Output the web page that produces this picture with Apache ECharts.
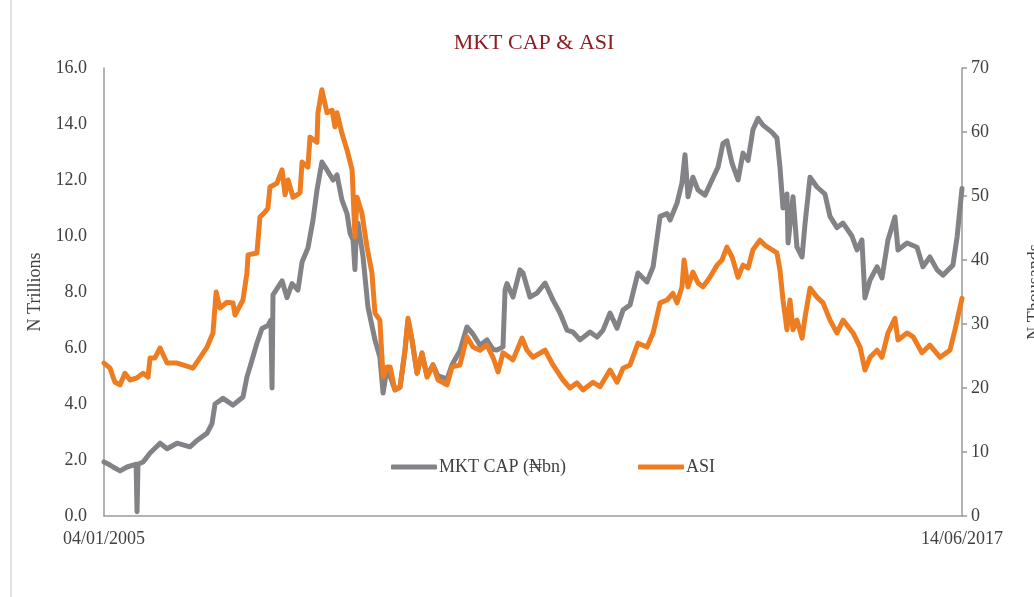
<!DOCTYPE html>
<html>
<head>
<meta charset="utf-8">
<title>MKT CAP &amp; ASI</title>
<script src="https://cdn.jsdelivr.net/npm/echarts@6/dist/echarts.min.js"></script>
<style>
  html, body { margin: 0; padding: 0; background: #ffffff; }
  #chart { width: 1034px; height: 597px; }
</style>
</head>
<body>
<div id="chart"></div>
<script>
// Axis end labels and the date range they span
const xTickLabels = ['04/01/2005', '14/06/2017'];
const startDate = '2005-01-04';
const endDate = '2017-06-14';

// Market capitalisation (N trillions, left axis)
const mktDates = [
  '2005-01-04','2005-02-05','2005-02-21','2005-03-30','2005-05-06','2005-06-07','2005-06-23','2005-06-28','2005-07-03','2005-07-30',
  '2005-09-05','2005-10-28','2005-12-04','2006-01-26','2006-04-04','2006-05-12','2006-07-04','2006-07-30','2006-08-15','2006-09-26',
  '2006-11-18','2007-01-10','2007-01-31','2007-02-27','2007-03-25','2007-04-21','2007-05-22','2007-06-07','2007-06-13','2007-06-18',
  '2007-08-05','2007-08-31','2007-09-27','2007-10-28','2007-11-19','2007-12-20','2008-01-16','2008-02-06','2008-03-03','2008-03-30',
  '2008-05-01','2008-05-22','2008-06-17','2008-07-14','2008-07-30','2008-08-15','2008-08-25','2008-08-31','2008-09-10','2008-10-07',
  '2008-11-02','2008-12-09','2009-01-04','2009-01-21','2009-02-11','2009-03-25','2009-04-21','2009-05-17','2009-06-02','2009-06-23',
  '2009-07-20','2009-08-15','2009-09-11','2009-10-12','2009-11-08','2009-12-26','2010-01-21','2010-03-04','2010-04-10','2010-05-12',
  '2010-06-18','2010-07-25','2010-08-26','2010-09-16','2010-10-18','2010-10-29','2010-11-08','2010-12-10','2011-01-16','2011-02-01',
  '2011-03-10','2011-04-16','2011-05-29','2011-07-10','2011-08-16','2011-09-22','2011-10-24','2011-11-30','2012-01-22','2012-02-28',
  '2012-03-31','2012-05-07','2012-06-13','2012-07-15','2012-08-21','2012-10-02','2012-11-19','2012-12-21','2013-01-27','2013-03-05',
  '2013-03-21','2013-04-27','2013-05-23','2013-06-08','2013-06-24','2013-07-20','2013-08-16','2013-09-22','2013-10-29','2013-11-30',
  '2013-12-26','2014-01-16','2014-02-12','2014-03-16','2014-04-11','2014-05-08','2014-06-03','2014-06-30','2014-07-26','2014-09-12',
  '2014-10-08','2014-10-24','2014-11-09','2014-11-30','2014-12-06','2015-01-01','2015-01-22','2015-02-18','2015-03-06','2015-04-01',
  '2015-05-08','2015-06-19','2015-07-16','2015-08-22','2015-09-23','2015-11-09','2015-12-06','2016-01-01','2016-01-17','2016-02-13',
  '2016-03-21','2016-04-16','2016-05-18','2016-06-24','2016-07-10','2016-08-27','2016-10-19','2016-11-19','2016-12-26','2017-02-02',
  '2017-03-05','2017-04-27','2017-05-19','2017-06-14'
];
const mktCap = [
  1.93,1.82,1.75,1.61,1.75,1.82,1.85,0.15,1.85,1.93,
  2.25,2.6,2.4,2.6,2.47,2.7,2.96,3.3,4.0,4.2,
  3.96,4.25,4.96,5.57,6.18,6.7,6.8,7.0,4.57,7.9,
  8.4,7.8,8.3,8.07,9.07,9.57,10.57,11.64,12.64,12.36,
  12.0,12.18,11.29,10.8,10.1,9.86,8.8,10.0,10.46,9.25,
  7.46,6.29,5.68,4.39,5.3,4.5,4.6,5.9,7.0,6.3,
  5.1,5.8,5.0,5.4,5.0,4.9,5.4,5.9,6.75,6.5,
  6.1,6.29,5.95,5.93,6.04,8.07,8.3,7.82,8.79,8.68,
  7.82,7.96,8.32,7.71,7.25,6.64,6.57,6.29,6.57,6.39,
  6.64,7.25,6.71,7.36,7.54,8.68,8.36,8.9,10.7,10.8,
  10.57,11.18,11.9,12.9,11.4,12.1,11.64,11.46,12.0,12.46,
  13.3,13.4,12.6,12.0,12.96,12.7,13.8,14.2,13.96,13.7,
  13.5,12.46,11.0,11.5,9.75,11.4,9.6,9.25,10.46,12.1,
  11.75,11.5,10.7,10.3,10.46,10.0,9.5,9.86,7.79,8.43,
  8.9,8.5,9.86,10.68,9.5,9.75,9.6,8.9,9.25,8.79,
  8.6,8.96,9.96,11.7
];

// All Share Index (N thousands, right axis)
const asiDates = [
  '2005-01-04','2005-02-05','2005-03-03','2005-03-30','2005-04-25','2005-05-22','2005-06-28','2005-07-30','2005-08-25','2005-09-05',
  '2005-10-01','2005-10-28','2005-12-04','2006-01-26','2006-02-26','2006-04-20','2006-05-27','2006-07-04','2006-08-04','2006-08-21',
  '2006-09-10','2006-10-17','2006-11-18','2006-11-29','2007-01-10','2007-01-31','2007-02-06','2007-03-25','2007-04-10','2007-05-07',
  '2007-05-22','2007-06-02','2007-07-09','2007-08-05','2007-08-21','2007-09-06','2007-10-02','2007-11-08','2007-11-19','2007-12-20',
  '2007-12-31','2008-02-06','2008-02-11','2008-03-03','2008-03-30','2008-04-26','2008-05-11','2008-05-22','2008-06-17','2008-07-14',
  '2008-08-10','2008-08-25','2008-09-05','2008-10-01','2008-10-28','2008-11-23','2008-12-09','2009-01-04','2009-01-21','2009-02-11',
  '2009-02-27','2009-03-25','2009-04-21','2009-05-17','2009-06-02','2009-06-23','2009-07-20','2009-08-15','2009-09-11','2009-10-12',
  '2009-11-08','2009-12-26','2010-01-21','2010-03-04','2010-04-10','2010-05-12','2010-06-18','2010-07-25','2010-08-26','2010-09-22',
  '2010-10-18','2010-12-10','2011-01-27','2011-02-22','2011-03-26','2011-05-29','2011-07-10','2011-09-01','2011-10-08','2011-11-14',
  '2011-12-16','2012-02-07','2012-03-15','2012-05-07','2012-06-13','2012-07-15','2012-08-21','2012-10-02','2012-11-19','2012-12-21',
  '2013-01-27','2013-03-05','2013-04-05','2013-04-27','2013-05-23','2013-06-03','2013-06-24','2013-07-20','2013-08-16','2013-09-11',
  '2013-10-18','2013-11-25','2013-12-21','2014-01-16','2014-02-12','2014-03-16','2014-04-11','2014-05-08','2014-06-03','2014-07-10',
  '2014-08-06','2014-09-12','2014-10-08','2014-10-24','2014-11-09','2014-11-30','2014-12-16','2015-01-01','2015-01-22','2015-02-18',
  '2015-03-06','2015-04-01','2015-05-08','2015-06-09','2015-07-16','2015-08-22','2015-09-23','2015-11-15','2015-12-22','2016-01-17',
  '2016-02-13','2016-03-21','2016-04-16','2016-05-18','2016-06-24','2016-07-10','2016-08-27','2016-09-28','2016-11-14','2016-12-26',
  '2017-02-18','2017-04-11','2017-05-08','2017-06-14'
];
const asiValues = [
  23.9,23.1,20.9,20.5,22.3,21.25,21.6,22.3,21.7,24.7,
  24.7,26.25,23.9,23.9,23.6,23.1,24.7,26.4,28.6,35.0,
  32.5,33.4,33.3,31.4,33.75,38.0,40.8,41.1,46.7,47.5,
  48.1,51.4,52.0,54.1,50.2,52.5,49.8,50.5,55.3,54.5,
  59.2,58.4,63.0,66.6,63.0,63.4,60.8,63.0,59.8,57.2,
  54.1,43.6,49.8,47.3,42.0,38.0,31.7,30.6,21.7,23.3,
  23.3,19.7,20.2,25.9,30.9,27.5,22.3,25.5,21.7,23.6,
  21.25,20.5,23.3,23.6,28.0,26.4,25.9,26.7,24.8,22.5,
  25.5,24.4,27.8,25.9,24.8,25.9,23.6,21.25,20.0,20.8,
  19.7,20.9,20.2,22.8,20.9,23.1,23.6,27.0,26.4,28.6,
  33.3,33.75,34.8,33.3,35.8,40.0,35.8,38.1,36.4,35.8,
  37.3,39.2,40.0,42.0,40.5,37.3,39.2,38.75,41.6,43.1,
  42.3,41.6,41.1,38.4,33.75,29.1,33.75,29.1,30.6,27.8,
  31.1,35.6,34.2,33.3,30.6,28.6,30.6,28.6,26.4,22.8,
  24.8,25.9,24.8,28.6,30.9,27.5,28.6,28.0,25.5,26.7,
  24.8,25.9,29.1,34.0
];

// Day offsets from the first trading date
function dayOf(s) {
  const p = s.split('-').map(Number);
  const q = startDate.split('-').map(Number);
  return Math.round((Date.UTC(p[0], p[1] - 1, p[2]) - Date.UTC(q[0], q[1] - 1, q[2])) / 86400000);
}
const totalDays = dayOf(endDate);
const mktSeries = mktDates.map((d, i) => [dayOf(d), mktCap[i]]);
const asiSeries = asiDates.map((d, i) => [dayOf(d), asiValues[i]]);

const FONT = "'Liberation Serif', 'DejaVu Serif', serif";
const TEXT = '#404040';
const AXIS = '#9a9a9a';
const GREY = '#838387';
const ORANGE = '#EE7D22';

const chart = echarts.init(document.getElementById('chart'), null, { renderer: 'canvas' });
chart.setOption({
  backgroundColor: '#ffffff',
  animation: false,
  title: {
    text: 'MKT CAP & ASI',
    left: 529,
    textAlign: 'center',
    top: 27,
    textStyle: { fontFamily: FONT, fontSize: 22, fontWeight: 'normal', color: '#8E1B20' }
  },
  graphic: [{
    type: 'line',
    shape: { x1: 11, y1: 0, x2: 11, y2: 597 },
    style: { stroke: '#d9d9d9', lineWidth: 1.5 },
    silent: true
  }],
  legend: {
    left: 386,
    top: 453,
    icon: 'roundRect',
    itemWidth: 46,
    itemHeight: 5,
    itemGap: 72,
    textStyle: { fontFamily: FONT, fontSize: 18, color: TEXT, padding: [0, 0, 0, -3] },
    data: ['MKT CAP (₦bn)', 'ASI']
  },
  grid: { left: 104, right: 72, top: 68, bottom: 81, containLabel: false, outerBoundsMode: 'none' },
  xAxis: {
    type: 'value',
    min: 0,
    max: totalDays,
    interval: totalDays,
    axisLine: { show: true, lineStyle: { color: AXIS, width: 1.5 } },
    axisTick: { show: false },
    splitLine: { show: false },
    axisLabel: {
      margin: 14,
      fontFamily: FONT,
      fontSize: 18,
      color: TEXT,
      formatter: v => (v === 0 ? xTickLabels[0] : xTickLabels[1])
    }
  },
  yAxis: [{
    type: 'value',
    min: 0,
    max: 16,
    interval: 2,
    name: 'N Trillions',
    nameLocation: 'middle',
    nameRotate: 90,
    nameGap: 45,
    nameTextStyle: { fontFamily: FONT, fontSize: 18, color: TEXT },
    axisLine: { show: true, lineStyle: { color: AXIS, width: 1.5 } },
    axisTick: { show: false },
    splitLine: { show: false },
    axisLabel: { margin: 17, fontFamily: FONT, fontSize: 18, color: TEXT, formatter: v => v.toFixed(1) }
  }, {
    type: 'value',
    min: 0,
    max: 70,
    interval: 10,
    position: 'right',
    name: 'N Thousands',
    nameLocation: 'middle',
    nameRotate: 90,
    nameGap: 64,
    nameTextStyle: { fontFamily: FONT, fontSize: 18, color: TEXT },
    axisLine: { show: true, lineStyle: { color: AXIS, width: 1.5 } },
    axisTick: { show: true, length: 5, lineStyle: { color: AXIS, width: 1.5 } },
    splitLine: { show: false },
    axisLabel: { margin: 9, fontFamily: FONT, fontSize: 18, color: TEXT }
  }],
  series: [{
    name: 'MKT CAP (₦bn)',
    type: 'line',
    yAxisIndex: 0,
    data: mktSeries,
    showSymbol: false,
    symbol: 'none',
    color: GREY,
    lineStyle: { color: GREY, width: 5, cap: 'round', join: 'round' },
    z: 2
  }, {
    name: 'ASI',
    type: 'line',
    yAxisIndex: 1,
    data: asiSeries,
    showSymbol: false,
    symbol: 'none',
    color: ORANGE,
    lineStyle: { color: ORANGE, width: 5, cap: 'round', join: 'round' },
    z: 3
  }]
});
</script>
</body>
</html>
